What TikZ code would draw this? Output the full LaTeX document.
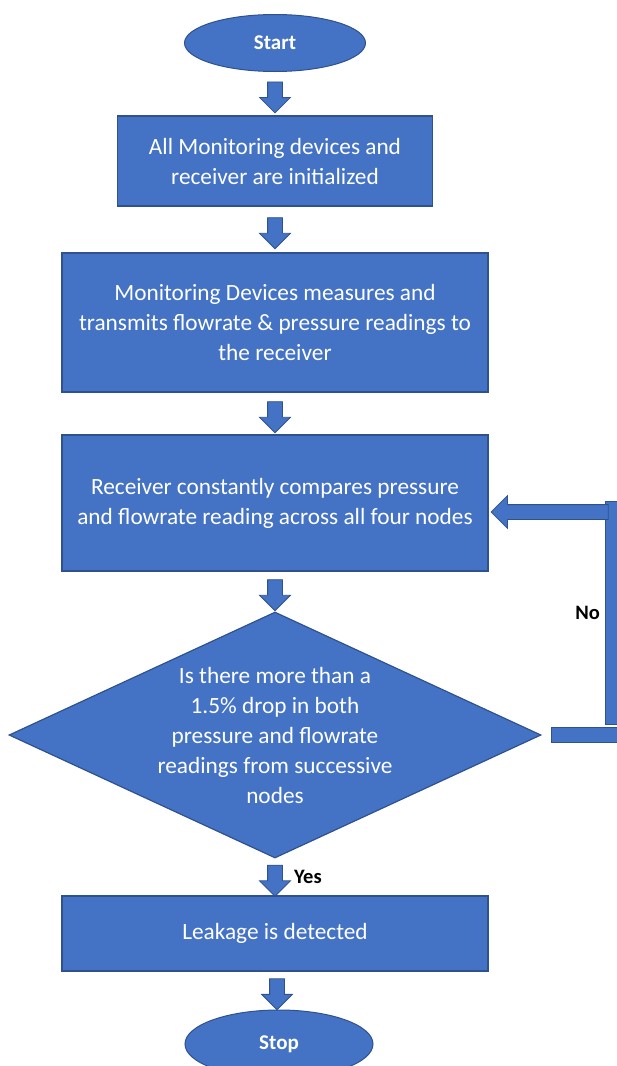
\documentclass[tikz,border=0pt]{standalone}
\usepackage{fontspec}
\setmainfont{Carlito}
\usepackage{xcolor}
\usepackage{tikz}
\usetikzlibrary{shapes.geometric, shapes.arrows, calc, positioning}
\definecolor{offblue}{HTML}{4472C4}
\definecolor{offedge}{HTML}{2F528F}

\begin{document}
\begin{tikzpicture}[x=1pt, y=-1pt,
    boxstyle/.style={draw=offedge, line width=1.2pt, fill=offblue, text=white,
      align=center, font=\fontsize{23.3}{30}\selectfont, inner sep=0pt},
    procbox/.style={boxstyle, rectangle, minimum width=426, minimum height=#1},
    termstyle/.style={draw=offedge, line width=1pt, fill=offblue, text=white,
      ellipse, inner sep=0pt, font=\fontsize{21}{24}\selectfont\bfseries},
    blockarrow/.style={single arrow, draw=offedge, line width=0.8pt, fill=offblue,
      inner xsep=0pt, inner ysep=7pt, minimum height=31,
      single arrow head extend=8pt, rotate=-90},
    barstyle/.style={draw=offedge, line width=1pt, fill=offblue, inner sep=0pt, rectangle},
    lbl/.style={font=\fontsize{20.5}{24}\selectfont\bfseries, text=black, inner sep=1pt}]

      \path[use as bounding box] (0,0) rectangle (617,1066);
      \clip (0,0) rectangle (617,1066);

      \def\midx{275}

      \node[termstyle, minimum width=181, minimum height=57] (start) at (\midx,43) {Start};
      \node[procbox=90, minimum width=315] (init) at (\midx,161)
        {All Monitoring devices and\\receiver are initialized};
      \node[procbox=139] (measure) at (\midx,322.5)
        {Monitoring Devices measures and\\transmits flowrate \& pressure readings to\\the receiver};
      \node[procbox=136] (compare) at (\midx,503)
        {Receiver constantly compares pressure\\and flowrate reading across all four nodes};
      \node[boxstyle, diamond, aspect=2.16, inner sep=-4pt, minimum width=532, minimum height=246] (decide) at (\midx,735)
        {Is there more than a\\1.5\% drop in both\\pressure and flowrate\\readings from successive\\nodes};
      \node[procbox=75] (leak) at (\midx,933.5) {Leakage is detected};
      \node[termstyle, minimum width=188, minimum height=68] (stop) at (279,1044) {Stop};

      \node[blockarrow] (a1) at ($(start.south)!0.5!(init.north)$) {};
      \node[blockarrow] (a2) at ($(init.south)!0.5!(measure.north)$) {};
      \node[blockarrow] (a3) at ($(measure.south)!0.5!(compare.north)$) {};
      \node[blockarrow] (a4) at ($(compare.south)!0.5!(decide.north)$) {};
      \node[blockarrow] (a5) at ($(decide.south)!0.5!(leak.north)$) {};
      \node[blockarrow] (a6) at ($(leak.south)!0.5!(stop.north)$) {};

      \node[lbl, anchor=west] (yes) at ($(a5.center)+(18,0)$) {Yes};

      \node[barstyle, anchor=west, minimum width=72, minimum height=15] (nobase)
        at ($(decide.east)+(9,0)$) {};
      \node[barstyle, anchor=south west, minimum width=15, minimum height=223] (noup)
        at (605,725) {};
      \node[single arrow, draw=offedge, line width=0.8pt, fill=offblue,
        inner xsep=0pt, inner ysep=7pt, minimum height=117, single arrow head extend=9pt,
        rotate=180, anchor=tip] (noback) at ($(compare.east)+(2,9)$) {};
      \node[lbl, left=4pt of noup] (no) {No};

\end{tikzpicture}
\end{document}
